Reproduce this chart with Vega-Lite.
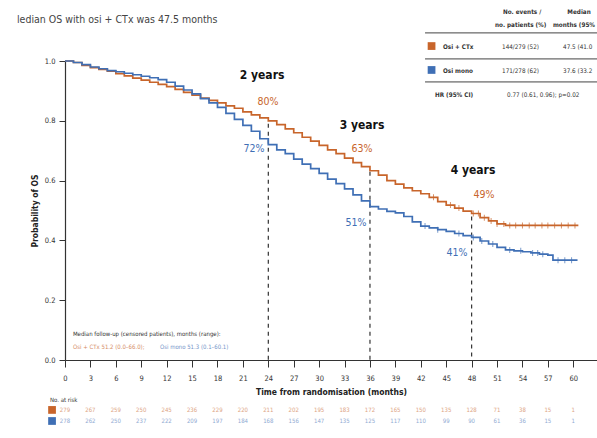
{
  "$schema": "https://vega.github.io/schema/vega-lite/v6.json",
  "width": 532,
  "height": 299,
  "autosize": {"type": "none"},
  "padding": {"left": 65, "top": 61, "right": 0, "bottom": 78},
  "background": "white",
  "config": {
    "font": "DejaVu Sans Condensed",
    "view": {"stroke": null},
    "axis": {"grid": false, "domainColor": "#333", "tickColor": "#333", "labelColor": "#333", "titleColor": "#222", "labelFontSize": 7.5, "titleFontSize": 8.5, "titleFontWeight": "bold", "labelFont": "DejaVu Sans Condensed", "titleFont": "DejaVu Sans Condensed"}
  },
  "datasets": {
    "km": [
      {"arm": "Osi + CTx", "month": 0, "surv": 1.0}, {"arm": "Osi + CTx", "month": 1, "surv": 0.995}, {"arm": "Osi + CTx", "month": 2, "surv": 0.985}, {"arm": "Osi + CTx", "month": 3, "surv": 0.978}, {"arm": "Osi + CTx", "month": 4, "surv": 0.972}, {"arm": "Osi + CTx", "month": 5, "surv": 0.966}, {"arm": "Osi + CTx", "month": 6, "surv": 0.958}, {"arm": "Osi + CTx", "month": 7, "surv": 0.95}, {"arm": "Osi + CTx", "month": 8, "surv": 0.943}, {"arm": "Osi + CTx", "month": 9, "surv": 0.936}, {"arm": "Osi + CTx", "month": 10, "surv": 0.929}, {"arm": "Osi + CTx", "month": 11, "surv": 0.922}, {"arm": "Osi + CTx", "month": 12, "surv": 0.914}, {"arm": "Osi + CTx", "month": 13, "surv": 0.905}, {"arm": "Osi + CTx", "month": 14, "surv": 0.895}, {"arm": "Osi + CTx", "month": 15, "surv": 0.886}, {"arm": "Osi + CTx", "month": 16, "surv": 0.876}, {"arm": "Osi + CTx", "month": 17, "surv": 0.868}, {"arm": "Osi + CTx", "month": 18, "surv": 0.86}, {"arm": "Osi + CTx", "month": 19, "surv": 0.85}, {"arm": "Osi + CTx", "month": 20, "surv": 0.842}, {"arm": "Osi + CTx", "month": 21, "surv": 0.83}, {"arm": "Osi + CTx", "month": 22, "surv": 0.82}, {"arm": "Osi + CTx", "month": 23, "surv": 0.81}, {"arm": "Osi + CTx", "month": 24, "surv": 0.8}, {"arm": "Osi + CTx", "month": 25, "surv": 0.787}, {"arm": "Osi + CTx", "month": 26, "surv": 0.773}, {"arm": "Osi + CTx", "month": 27, "surv": 0.76}, {"arm": "Osi + CTx", "month": 28, "surv": 0.745}, {"arm": "Osi + CTx", "month": 29, "surv": 0.732}, {"arm": "Osi + CTx", "month": 30, "surv": 0.718}, {"arm": "Osi + CTx", "month": 31, "surv": 0.703}, {"arm": "Osi + CTx", "month": 32, "surv": 0.69}, {"arm": "Osi + CTx", "month": 33, "surv": 0.675}, {"arm": "Osi + CTx", "month": 34, "surv": 0.66}, {"arm": "Osi + CTx", "month": 35, "surv": 0.647}, {"arm": "Osi + CTx", "month": 36, "surv": 0.633}, {"arm": "Osi + CTx", "month": 37, "surv": 0.618}, {"arm": "Osi + CTx", "month": 38, "surv": 0.6}, {"arm": "Osi + CTx", "month": 39, "surv": 0.588}, {"arm": "Osi + CTx", "month": 40, "surv": 0.576}, {"arm": "Osi + CTx", "month": 41, "surv": 0.566}, {"arm": "Osi + CTx", "month": 42, "surv": 0.556}, {"arm": "Osi + CTx", "month": 43, "surv": 0.544}, {"arm": "Osi + CTx", "month": 44, "surv": 0.53}, {"arm": "Osi + CTx", "month": 45, "surv": 0.518}, {"arm": "Osi + CTx", "month": 46, "surv": 0.508}, {"arm": "Osi + CTx", "month": 47, "surv": 0.498}, {"arm": "Osi + CTx", "month": 48, "surv": 0.49}, {"arm": "Osi + CTx", "month": 49, "surv": 0.476}, {"arm": "Osi + CTx", "month": 50, "surv": 0.465}, {"arm": "Osi + CTx", "month": 51, "surv": 0.455}, {"arm": "Osi + CTx", "month": 52, "surv": 0.45}, {"arm": "Osi + CTx", "month": 60.6, "surv": 0.45},
      {"arm": "Osi mono", "month": 0, "surv": 1.0}, {"arm": "Osi mono", "month": 1, "surv": 0.995}, {"arm": "Osi mono", "month": 2, "surv": 0.988}, {"arm": "Osi mono", "month": 3, "surv": 0.98}, {"arm": "Osi mono", "month": 4, "surv": 0.974}, {"arm": "Osi mono", "month": 5, "surv": 0.968}, {"arm": "Osi mono", "month": 6, "surv": 0.964}, {"arm": "Osi mono", "month": 7, "surv": 0.959}, {"arm": "Osi mono", "month": 8, "surv": 0.954}, {"arm": "Osi mono", "month": 9, "surv": 0.949}, {"arm": "Osi mono", "month": 10, "surv": 0.944}, {"arm": "Osi mono", "month": 11, "surv": 0.938}, {"arm": "Osi mono", "month": 12, "surv": 0.929}, {"arm": "Osi mono", "month": 13, "surv": 0.916}, {"arm": "Osi mono", "month": 14, "surv": 0.903}, {"arm": "Osi mono", "month": 15, "surv": 0.89}, {"arm": "Osi mono", "month": 16, "surv": 0.874}, {"arm": "Osi mono", "month": 17, "surv": 0.86}, {"arm": "Osi mono", "month": 18, "surv": 0.845}, {"arm": "Osi mono", "month": 19, "surv": 0.825}, {"arm": "Osi mono", "month": 20, "surv": 0.805}, {"arm": "Osi mono", "month": 21, "surv": 0.785}, {"arm": "Osi mono", "month": 22, "surv": 0.765}, {"arm": "Osi mono", "month": 23, "surv": 0.74}, {"arm": "Osi mono", "month": 24, "surv": 0.72}, {"arm": "Osi mono", "month": 25, "surv": 0.703}, {"arm": "Osi mono", "month": 26, "surv": 0.69}, {"arm": "Osi mono", "month": 27, "surv": 0.672}, {"arm": "Osi mono", "month": 28, "surv": 0.655}, {"arm": "Osi mono", "month": 29, "surv": 0.64}, {"arm": "Osi mono", "month": 30, "surv": 0.624}, {"arm": "Osi mono", "month": 31, "surv": 0.605}, {"arm": "Osi mono", "month": 32, "surv": 0.59}, {"arm": "Osi mono", "month": 33, "surv": 0.572}, {"arm": "Osi mono", "month": 34, "surv": 0.552}, {"arm": "Osi mono", "month": 35, "surv": 0.532}, {"arm": "Osi mono", "month": 36, "surv": 0.513}, {"arm": "Osi mono", "month": 37, "surv": 0.505}, {"arm": "Osi mono", "month": 38, "surv": 0.497}, {"arm": "Osi mono", "month": 39, "surv": 0.492}, {"arm": "Osi mono", "month": 40, "surv": 0.48}, {"arm": "Osi mono", "month": 41, "surv": 0.462}, {"arm": "Osi mono", "month": 42, "surv": 0.448}, {"arm": "Osi mono", "month": 43, "surv": 0.442}, {"arm": "Osi mono", "month": 44, "surv": 0.436}, {"arm": "Osi mono", "month": 45, "surv": 0.43}, {"arm": "Osi mono", "month": 46, "surv": 0.423}, {"arm": "Osi mono", "month": 47, "surv": 0.416}, {"arm": "Osi mono", "month": 48, "surv": 0.41}, {"arm": "Osi mono", "month": 49, "surv": 0.398}, {"arm": "Osi mono", "month": 50, "surv": 0.388}, {"arm": "Osi mono", "month": 51, "surv": 0.377}, {"arm": "Osi mono", "month": 52, "surv": 0.368}, {"arm": "Osi mono", "month": 53, "surv": 0.365}, {"arm": "Osi mono", "month": 54, "surv": 0.362}, {"arm": "Osi mono", "month": 55, "surv": 0.358}, {"arm": "Osi mono", "month": 56, "surv": 0.354}, {"arm": "Osi mono", "month": 57, "surv": 0.351}, {"arm": "Osi mono", "month": 57.6, "surv": 0.334}, {"arm": "Osi mono", "month": 60.5, "surv": 0.334}
    ],
    "censor": [
      {"arm": "Osi + CTx", "month": 43.5, "surv": 0.544}, {"arm": "Osi + CTx", "month": 45.5, "surv": 0.518}, {"arm": "Osi + CTx", "month": 46.5, "surv": 0.508}, {"arm": "Osi + CTx", "month": 48.2, "surv": 0.49}, {"arm": "Osi + CTx", "month": 48.8, "surv": 0.49}, {"arm": "Osi + CTx", "month": 49.5, "surv": 0.476}, {"arm": "Osi + CTx", "month": 50.3, "surv": 0.465}, {"arm": "Osi + CTx", "month": 51.0, "surv": 0.455}, {"arm": "Osi + CTx", "month": 51.8, "surv": 0.455}, {"arm": "Osi + CTx", "month": 52.5, "surv": 0.45}, {"arm": "Osi + CTx", "month": 53.2, "surv": 0.45}, {"arm": "Osi + CTx", "month": 54.0, "surv": 0.45}, {"arm": "Osi + CTx", "month": 54.8, "surv": 0.45}, {"arm": "Osi + CTx", "month": 55.5, "surv": 0.45}, {"arm": "Osi + CTx", "month": 56.3, "surv": 0.45}, {"arm": "Osi + CTx", "month": 57.0, "surv": 0.45}, {"arm": "Osi + CTx", "month": 57.8, "surv": 0.45}, {"arm": "Osi + CTx", "month": 58.6, "surv": 0.45}, {"arm": "Osi + CTx", "month": 59.4, "surv": 0.45}, {"arm": "Osi + CTx", "month": 60.2, "surv": 0.45},
      {"arm": "Osi mono", "month": 42.5, "surv": 0.448}, {"arm": "Osi mono", "month": 44.0, "surv": 0.436}, {"arm": "Osi mono", "month": 46.5, "surv": 0.423}, {"arm": "Osi mono", "month": 48.2, "surv": 0.41}, {"arm": "Osi mono", "month": 49.2, "surv": 0.398}, {"arm": "Osi mono", "month": 50.5, "surv": 0.388}, {"arm": "Osi mono", "month": 52.5, "surv": 0.368}, {"arm": "Osi mono", "month": 53.8, "surv": 0.365}, {"arm": "Osi mono", "month": 55.2, "surv": 0.358}, {"arm": "Osi mono", "month": 55.8, "surv": 0.358}, {"arm": "Osi mono", "month": 56.4, "surv": 0.354}, {"arm": "Osi mono", "month": 58.2, "surv": 0.334}, {"arm": "Osi mono", "month": 59.0, "surv": 0.334}, {"arm": "Osi mono", "month": 59.8, "surv": 0.334}
    ],
    "landmarks": [{"month": 24, "surv": 0.79}, {"month": 36, "surv": 0.63}, {"month": 48, "surv": 0.48}],
    "years": [{"label": "2 years", "month": 23.26, "surv": 0.953}, {"label": "3 years", "month": 35.06, "surv": 0.786}, {"label": "4 years", "month": 48.16, "surv": 0.635}],
    "pct": [
      {"arm": "Osi + CTx", "label": "80%", "month": 23.96, "surv": 0.863},
      {"arm": "Osi mono", "label": "72%", "month": 22.31, "surv": 0.706},
      {"arm": "Osi + CTx", "label": "63%", "month": 35.06, "surv": 0.706},
      {"arm": "Osi mono", "label": "51%", "month": 34.35, "surv": 0.458},
      {"arm": "Osi + CTx", "label": "49%", "month": 49.46, "surv": 0.552},
      {"arm": "Osi mono", "label": "41%", "month": 46.28, "surv": 0.358}
    ],
    "headline": [{"label": "ledian OS with osi + CTx was 47.5 months", "month": -5.67, "surv": 1.137}],
    "followup": [{"label": "Median follow-up (censored patients), months (range):", "month": 0.94, "surv": 0.087}, {"label": "No. at risk", "month": -1.77, "surv": -0.134}],
    "followupArms": [
      {"arm": "Osi + CTx", "label": "Osi + CTx 51.2 (0.0–66.0);", "month": 0.94, "surv": 0.0435},
      {"arm": "Osi mono", "label": "Osi mono 51.3 (0.1–60.1)", "month": 11.2, "surv": 0.0435}
    ],
    "riskRows": [{"arm": "Osi + CTx", "surv": -0.167}, {"arm": "Osi mono", "surv": -0.204}],
    "atrisk": [
      {"arm": "Osi + CTx", "month": 0, "n": 279}, {"arm": "Osi + CTx", "month": 3, "n": 267}, {"arm": "Osi + CTx", "month": 6, "n": 259}, {"arm": "Osi + CTx", "month": 9, "n": 250}, {"arm": "Osi + CTx", "month": 12, "n": 245}, {"arm": "Osi + CTx", "month": 15, "n": 236}, {"arm": "Osi + CTx", "month": 18, "n": 229}, {"arm": "Osi + CTx", "month": 21, "n": 220}, {"arm": "Osi + CTx", "month": 24, "n": 211}, {"arm": "Osi + CTx", "month": 27, "n": 202}, {"arm": "Osi + CTx", "month": 30, "n": 195}, {"arm": "Osi + CTx", "month": 33, "n": 183}, {"arm": "Osi + CTx", "month": 36, "n": 172}, {"arm": "Osi + CTx", "month": 39, "n": 165}, {"arm": "Osi + CTx", "month": 42, "n": 150}, {"arm": "Osi + CTx", "month": 45, "n": 135}, {"arm": "Osi + CTx", "month": 48, "n": 128}, {"arm": "Osi + CTx", "month": 51, "n": 71}, {"arm": "Osi + CTx", "month": 54, "n": 38}, {"arm": "Osi + CTx", "month": 57, "n": 15}, {"arm": "Osi + CTx", "month": 60, "n": 1},
      {"arm": "Osi mono", "month": 0, "n": 278}, {"arm": "Osi mono", "month": 3, "n": 262}, {"arm": "Osi mono", "month": 6, "n": 250}, {"arm": "Osi mono", "month": 9, "n": 237}, {"arm": "Osi mono", "month": 12, "n": 222}, {"arm": "Osi mono", "month": 15, "n": 209}, {"arm": "Osi mono", "month": 18, "n": 197}, {"arm": "Osi mono", "month": 21, "n": 184}, {"arm": "Osi mono", "month": 24, "n": 168}, {"arm": "Osi mono", "month": 27, "n": 156}, {"arm": "Osi mono", "month": 30, "n": 147}, {"arm": "Osi mono", "month": 33, "n": 135}, {"arm": "Osi mono", "month": 36, "n": 125}, {"arm": "Osi mono", "month": 39, "n": 117}, {"arm": "Osi mono", "month": 42, "n": 110}, {"arm": "Osi mono", "month": 45, "n": 99}, {"arm": "Osi mono", "month": 48, "n": 90}, {"arm": "Osi mono", "month": 51, "n": 61}, {"arm": "Osi mono", "month": 54, "n": 36}, {"arm": "Osi mono", "month": 57, "n": 15}, {"arm": "Osi mono", "month": 60, "n": 1}
    ],
    "swatches": [
      {"arm": "Osi + CTx", "month": 43.27, "surv": 1.05}, {"arm": "Osi mono", "month": 43.27, "surv": 0.97},
      {"arm": "Osi + CTx", "month": -1.53, "surv": -0.167}, {"arm": "Osi mono", "month": -1.53, "surv": -0.204}
    ],
    "tableRules": [{"month": 42.5, "month2": 62.8, "surv": 1.094}, {"month": 42.5, "month2": 62.8, "surv": 1.007}, {"month": 42.5, "month2": 62.8, "surv": 0.93}],
    "tableBold": [
      {"label": "No. events /", "month": 51.7, "surv": 1.164}, {"label": "no. patients (%)", "month": 50.76, "surv": 1.12},
      {"label": "Median", "month": 59.3, "surv": 1.164}, {"label": "months (95%", "month": 57.6, "surv": 1.12},
      {"label": "Osi + CTx", "month": 44.62, "surv": 1.047}, {"label": "Osi mono", "month": 44.62, "surv": 0.967},
      {"label": "HR (95% CI)", "month": 43.68, "surv": 0.886}
    ],
    "tableText": [
      {"label": "144/279 (52)", "month": 51.59, "surv": 1.047}, {"label": "171/278 (62)", "month": 51.59, "surv": 0.967},
      {"label": "47.5 (41.0", "month": 58.79, "surv": 1.047}, {"label": "37.6 (33.2", "month": 58.79, "surv": 0.967},
      {"label": "0.77 (0.61, 0.96); p=0.02", "month": 52.18, "surv": 0.886}
    ]
  },
  "encoding": {
    "x": {"field": "month", "type": "quantitative", "scale": {"domain": [0, 62.8], "nice": false, "zero": false},
      "axis": {"values": [0, 3, 6, 9, 12, 15, 18, 21, 24, 27, 30, 33, 36, 39, 42, 45, 48, 51, 54, 57, 60], "title": "Time from randomisation (months)", "tickSize": 7, "labelPadding": 7, "titlePadding": 6, "labelFlush": false, "domainWidth": 1.2}},
    "y": {"field": "surv", "type": "quantitative", "scale": {"domain": [0, 1], "nice": false, "zero": false},
      "axis": {"values": [0, 0.2, 0.4, 0.6, 0.8, 1], "format": ".1f", "title": "Probability of OS", "tickSize": 6, "labelPadding": 4, "titlePadding": 5, "domainWidth": 1.2, "labelFlush": false}}
  },
  "layer": [
    {"data": {"name": "landmarks"}, "mark": {"type": "rule", "strokeDash": [4, 4], "strokeWidth": 1.2, "color": "#333"},
      "encoding": {"y2": {"datum": 0}}},
    {"data": {"name": "km"}, "mark": {"type": "line", "interpolate": "step-after", "strokeWidth": 1.7},
      "encoding": {"color": {"field": "arm", "type": "nominal", "scale": {"domain": ["Osi + CTx", "Osi mono"], "range": ["#c8652b", "#3f6fb5"]}, "legend": null}}},
    {"data": {"name": "censor"}, "mark": {"type": "tick", "orient": "vertical", "size": 6, "thickness": 1},
      "encoding": {"color": {"field": "arm", "type": "nominal", "legend": null}}},
    {"data": {"name": "years"}, "mark": {"type": "text", "fontSize": 12, "fontWeight": "bold", "color": "#111", "align": "center", "baseline": "middle"},
      "encoding": {"text": {"field": "label"}}},
    {"data": {"name": "pct"}, "mark": {"type": "text", "fontSize": 10.5, "align": "center", "baseline": "middle"},
      "encoding": {"text": {"field": "label"}, "color": {"field": "arm", "type": "nominal", "legend": null}}},
    {"data": {"name": "headline"}, "mark": {"type": "text", "fontSize": 10.5, "align": "left", "baseline": "middle", "color": "#444"},
      "encoding": {"text": {"field": "label"}}},
    {"data": {"name": "followup"}, "mark": {"type": "text", "fontSize": 6, "align": "left", "baseline": "middle", "color": "#333"},
      "encoding": {"text": {"field": "label"}}},
    {"data": {"name": "followupArms"}, "mark": {"type": "text", "fontSize": 6, "align": "left", "baseline": "middle", "opacity": 0.75},
      "encoding": {"text": {"field": "label"}, "color": {"field": "arm", "type": "nominal", "legend": null}}},
    {"data": {"name": "atrisk"},
      "transform": [{"lookup": "arm", "from": {"data": {"name": "riskRows"}, "key": "arm", "fields": ["surv"]}}],
      "mark": {"type": "text", "fontSize": 6, "align": "center", "baseline": "middle", "opacity": 0.6},
      "encoding": {"text": {"field": "n"}, "color": {"field": "arm", "type": "nominal", "legend": null}}},
    {"data": {"name": "swatches"}, "mark": {"type": "point", "shape": "square", "filled": true, "opacity": 1, "size": 60},
      "encoding": {"color": {"field": "arm", "type": "nominal", "legend": null}}},
    {"data": {"name": "tableRules"}, "mark": {"type": "rule", "strokeWidth": 1, "color": "#444"},
      "encoding": {"x2": {"field": "month2"}}},
    {"data": {"name": "tableBold"}, "mark": {"type": "text", "fontSize": 6.3, "fontWeight": "bold", "align": "left", "baseline": "middle", "color": "#333"},
      "encoding": {"text": {"field": "label"}}},
    {"data": {"name": "tableText"}, "mark": {"type": "text", "fontSize": 6.3, "align": "left", "baseline": "middle", "color": "#333"},
      "encoding": {"text": {"field": "label"}}}
  ]
}
